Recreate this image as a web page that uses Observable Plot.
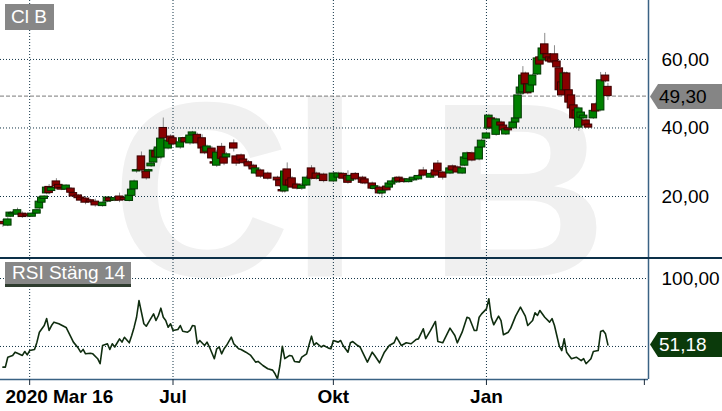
<!DOCTYPE html>
<html><head><meta charset="utf-8">
<script src="https://cdn.jsdelivr.net/npm/d3@7"></script>
<script src="https://cdn.jsdelivr.net/npm/@observablehq/plot@0.6"></script>
<style>
html,body{margin:0;padding:0;background:#fff;}
#wrap{position:relative;width:722px;height:411px;overflow:hidden;font-family:"Liberation Sans",Arial,sans-serif;}
#wrap svg{display:block;}
.lab{position:absolute;z-index:5;background:#878787;color:#fff;font-size:19px;white-space:nowrap;box-sizing:border-box;}
#sep{position:relative;z-index:4;height:2px;background:#0c3048;}
</style></head><body><div id="wrap"></div>
<script>
// ---- data ----
const ticker = "Cl B";
const indicatorName = "RSI Stäng 14";
const startLabel = "2020 Mar 16";
// trading-day index of time ticks
const tickDays = [12, 71, 137, 200, 265];
const tickLabels = ["", "Jul", "Okt", "Jan", ""];
const gridDays = [12, 71, 137, 200];
const priceTicks = [20, 40, 60];
const priceTickLabels = ["20,00", "40,00", "60,00"];
const rsiTicks = [50, 100];
const rsiLabelTicks = [100];
const rsiTickLabels = ["100,00"];
const lastClose = 49.30, lastCloseLabel = "49,30";
const lastRsi = 51.18, lastRsiLabel = "51,18";
// [day, open, high, low, close]
const ohlc = [
[1,12.6,13.3,11.0,11.9],[3,11.5,13.8,11.2,13.3],[4,14.1,15.6,13.8,15.3],[5,14.8,15.6,14.5,15.2],
[7,14.7,16.6,14.4,16.0],[9,15.0,15.5,13.6,14.0],[11,14.8,15.2,13.8,14.2],[13,14.1,15.3,13.9,15.0],
[15,15.0,16.2,14.8,16.0],[16,16.5,18.8,16.2,18.5],[17,18.2,19.9,18.0,19.7],[18,19.3,20.2,19.0,20.0],
[19,20.9,22.8,20.5,22.6],[20,22.8,23.5,20.5,21.0],[21,21.6,22.7,21.3,22.5],[23,24.4,25.2,22.5,22.9],
[24,23.4,23.8,22.0,22.3],[25,22.5,22.9,21.7,22.0],[27,22.0,23.4,21.8,23.2],[29,22.3,22.6,20.8,21.1],
[30,21.0,21.3,19.6,20.0],[32,20.3,20.6,19.0,19.5],[33,19.7,20.5,18.0,18.8],[35,19.4,20.0,17.6,18.2],
[37,18.9,19.2,17.9,18.3],[39,18.5,19.2,16.9,17.4],[42,17.2,18.4,16.9,18.2],[44,18.5,19.9,18.2,19.7],
[45,19.5,19.8,18.4,18.7],[47,18.8,19.8,18.5,19.5],[49,20.0,21.0,18.2,18.8],[51,19.6,19.9,18.6,19.0],
[53,18.7,20.5,18.4,20.3],[54,20.2,22.5,19.8,22.0],[55,22.1,24.8,21.8,24.4],[56,27.3,28.0,26.8,27.7],
[58,31.7,33.0,26.8,27.6],[60,27.3,27.8,24.8,25.3],[61,27.3,28.0,27.0,27.7],[62,28.8,30.0,28.5,29.6],
[63,29.9,34.0,29.5,33.4],[64,33.2,33.8,30.8,31.4],[65,31.4,34.8,31.0,34.3],[66,31.4,37.4,30.8,36.9],
[67,40.0,42.9,36.5,37.0],[69,34.0,36.8,33.6,36.3],[70,37.5,38.0,35.7,36.0],[71,37.0,37.4,34.8,35.2],
[74,34.3,36.2,33.8,35.8],[75,36.0,37.3,35.7,37.0],[76,37.0,37.4,35.4,35.8],[78,35.5,38.2,35.0,37.8],
[79,38.0,39.0,37.7,38.7],[81,38.0,38.5,35.0,35.5],[83,37.0,38.0,33.0,34.0],[84,34.3,34.8,32.2,32.6],
[85,33.1,35.0,32.8,34.6],[87,34.0,34.6,30.6,31.1],[88,30.0,30.4,29.2,29.6],[89,29.0,33.5,28.5,32.8],
[91,34.5,35.5,30.6,31.0],[92,31.4,31.8,29.0,29.6],[93,31.4,32.8,31.0,32.3],[96,35.5,36.5,33.0,34.0],
[97,31.7,32.2,28.8,29.6],[99,32.0,32.4,30.0,30.5],[100,30.8,31.2,29.2,29.7],[102,30.0,30.5,28.3,28.8],
[104,29.0,29.4,27.4,27.9],[105,26.7,28.6,26.3,28.2],[107,27.6,28.0,25.3,25.8],[110,26.7,27.1,24.8,25.2],
[114,25.5,25.9,24.3,24.7],[115,24.7,25.1,22.6,23.0],[116,21.9,22.2,21.0,21.5],[117,21.5,28.0,21.0,27.3],
[118,27.9,29.8,22.8,23.2],[119,24.7,25.2,22.8,23.2],[120,25.3,25.8,22.2,22.6],[122,23.5,23.9,21.9,22.3],
[124,22.3,23.8,21.8,23.2],[126,23.2,26.0,22.9,25.5],[128,28.2,29.0,24.8,25.2],[130,26.7,27.1,24.8,25.2],
[132,25.2,26.5,24.9,26.1],[133,26.4,26.8,24.0,24.5],[137,24.4,27.0,24.0,26.7],[139,25.5,27.1,25.2,26.7],
[141,26.6,27.0,24.8,25.2],[143,26.0,27.5,23.6,24.0],[144,24.6,26.4,24.3,26.0],[146,26.6,27.0,24.6,25.0],
[149,25.5,25.9,23.6,24.0],[150,25.0,25.4,23.4,23.8],[153,23.8,24.2,21.9,22.3],[154,22.2,23.4,21.8,23.0],
[156,22.6,23.0,20.5,20.9],[157,20.9,22.1,19.5,21.7],[159,22.9,23.3,21.4,21.8],[160,22.6,24.2,22.3,23.8],
[161,23.5,24.8,23.2,24.4],[163,24.1,25.7,23.8,25.3],[164,25.5,25.9,24.0,24.4],[166,25.0,25.4,23.8,24.2],
[168,24.2,25.4,23.9,25.0],[170,24.7,25.9,24.4,25.5],[172,25.0,26.4,24.7,26.0],[174,27.6,28.5,25.7,26.1],
[177,25.5,27.0,25.2,26.6],[179,27.6,28.0,25.7,26.1],[180,29.6,30.5,26.9,27.3],[182,27.0,27.4,24.8,25.5],
[185,26.7,28.6,26.4,28.2],[186,28.8,29.2,27.2,27.6],[188,28.5,28.9,26.6,27.0],[190,26.7,28.6,26.4,28.2],
[191,29.0,31.8,28.7,31.4],[192,31.0,33.0,30.7,32.6],[194,32.6,33.0,30.1,30.5],[197,30.8,34.7,30.4,34.3],
[198,34.3,36.7,34.0,36.3],[200,36.9,38.8,36.6,38.4],[201,39.8,44.0,39.4,43.6],[202,42.8,43.2,39.7,40.1],
[204,38.0,42.9,37.6,42.5],[206,41.6,42.0,40.3,40.7],[207,40.7,41.1,38.9,39.3],[208,38.1,40.0,37.8,39.6],
[209,39.9,40.3,38.9,39.3],[211,39.9,42.0,39.6,41.6],[212,41.6,43.2,41.3,42.8],[213,42.8,50.0,42.0,49.5],
[214,50.0,52.2,49.7,51.8],[215,50.4,57.9,49.5,55.3],[216,55.9,56.3,52.3,52.7],[217,52.7,53.1,49.7,50.1],
[218,50.4,53.1,50.1,52.7],[219,52.4,55.7,52.1,55.3],[221,55.6,60.7,55.3,60.3],[222,60.6,61.0,58.1,58.5],
[223,59.7,63.6,59.4,63.2],[224,64.4,67.6,61.1,61.5],[225,61.5,61.9,59.9,60.3],[226,60.6,61.0,59.0,59.4],
[227,60.3,60.7,58.7,59.1],[228,61.5,64.0,59.0,59.4],[229,59.4,59.8,57.3,57.7],[230,57.4,57.8,49.5,51.0],
[231,53.3,53.7,49.1,49.5],[232,51.0,56.3,50.6,55.9],[233,55.9,56.3,50.6,51.0],[234,51.0,51.4,47.0,47.4],
[235,49.5,49.9,45.3,45.7],[236,46.6,47.0,42.4,42.8],[237,45.1,45.5,42.4,42.8],[238,40.1,46.1,39.0,45.7],
[239,43.0,44.9,42.7,44.5],[240,42.8,44.0,42.5,43.6],[241,42.2,42.6,40.3,40.7],[242,41.0,41.4,39.7,40.1],
[244,42.8,45.4,42.5,45.0],[245,46.9,47.3,44.4,44.8],[247,45.1,56.2,44.7,53.9],[249,55.3,56.2,53.2,53.6],
[250,52.0,53.0,48.0,49.3]
];
const rsiDay = [1,2,3,5,6,7,9,10,11,12,14,15,16,18,19,20,21,22,24,26,27,29,30,32,33,34,35,37,38,40,41,42,44,45,46,47,49,50,51,53,54,55,56,57,59,60,61,63,64,65,66,67,68,69,70,71,73,74,75,77,78,79,80,81,82,84,85,86,88,89,90,91,92,93,95,96,98,99,101,103,105,106,108,110,112,113,114,115,116,117,119,120,121,123,124,126,127,128,129,130,132,133,135,136,137,139,140,141,143,144,145,147,148,149,151,153,154,156,158,160,162,163,165,167,169,171,172,174,175,177,179,180,182,185,187,188,190,192,193,195,196,197,198,200,201,202,203,205,206,207,209,210,212,214,216,217,219,220,221,222,224,226,227,228,230,231,232,233,235,237,239,240,241,243,244,246,247,248,249,250];
const rsiValue = [34.8,34.8,42.1,43.4,45.8,45,43.4,46.3,43.8,47,47.8,53.2,60.5,65.4,70.5,61.8,65.4,67.9,66.7,64.9,64,56.9,53.2,48.8,45.8,47.8,44.6,45,44.6,41,37.3,50.7,52,47.8,52,49.6,55.6,53.2,56.8,52.7,58.1,64.2,71.5,83.8,66.7,64.9,67.9,74,69.1,72.8,78.2,71.5,69.1,64.2,66.7,61.8,62.5,65.4,61.2,60.5,61.8,65.4,65,52,54.4,50.7,53.2,49.6,41,48.3,49.6,44.6,48.3,50.7,56.9,52,48.3,47.8,45.8,43.4,38.5,39,36,33.6,32.6,29.9,26.2,36,50.2,41,43.4,43,39,38.5,42.1,44.6,51.3,57.6,51,52.7,49.6,50.7,48.8,48.3,54.4,53.2,54.4,50.7,45.8,52.7,53.6,50.7,49.6,45.8,38.5,45.8,43.4,38,45.8,50.7,52.7,56.9,50.7,52.7,52,55.1,55.6,63,55.8,61.8,68.4,53.7,52.7,63.5,58.1,52.7,60.5,71.5,70.8,61.8,61.8,71.5,74,77.7,85.1,71.5,66,72.3,69.1,58.6,60.5,63.5,72.3,78.9,72.3,65.4,69.1,74.8,72.8,76.5,71.5,67.9,70.5,65.4,50.2,47,55.6,45.8,41,42.1,39.6,41,37.3,41,46.3,47,61,61.8,59.3,51.18];

// ---- styling / scales ----
const FONT = "Liberation Sans, Arial, sans-serif";
const xDomain = [0, 266.7];
const priceDomain = [2.2, 77.2];
const rsiDomain = [25.7, 114];
const gridColor = "#123447";
const axisColor = "#3a6284";
const bodyHalf = 1.55;
const upFill = "#008000", upStroke = "#003800";
const dnFill = "#880000", dnStroke = "#3a0000";

function tag(value, label, fill, color) {
  return (index, scales, values, dims) => {
    const y = Math.round(scales.y(value)) + 0.5;
    const x0 = dims.width - dims.marginRight;
    const g = d3.create("svg:g");
    g.append("path")
      .attr("d", `M${x0 + 2},${y} L${x0 + 10},${y - 12.5} L${dims.width},${y - 12.5} L${dims.width},${y + 12.5} L${x0 + 10},${y + 12.5} Z`)
      .attr("fill", fill);
    g.append("text").attr("x", x0 + 11).attr("y", y).attr("dy", "0.35em")
      .attr("text-anchor", "start")
      .attr("fill", color).attr("font-size", 19).attr("font-family", FONT).text(label);
    return g.node();
  };
}

const wrap = document.getElementById("wrap");

const main = Plot.plot({
  width: 722, height: 257,
  marginLeft: 0, marginRight: 74, marginTop: 0, marginBottom: 0,
  x: {domain: xDomain, axis: null},
  y: {domain: priceDomain, axis: null},
  style: {background: "none", overflow: "visible", fontFamily: FONT},
  marks: [
    Plot.text([ticker], {text: d => d, frameAnchor: "top-left", dx: 111, dy: 275, lineAnchor: "bottom", textAnchor: "start", fontSize: 248, fontWeight: "bold", fill: "#f0f0f0"}),
    Plot.ruleY(priceTicks, {stroke: gridColor, strokeDasharray: "1,2"}),
    Plot.ruleX(gridDays, {stroke: gridColor, strokeDasharray: "1,2"}),
    Plot.ruleY([lastClose], {stroke: "#7a7a7a", strokeDasharray: "4,2"}),
    Plot.ruleX(ohlc, {x: r => r[0], y1: r => r[3], y2: r => r[2], stroke: "#8a8a8a", strokeWidth: 1}),
    Plot.rect(ohlc, {
      x1: r => r[0] - bodyHalf, x2: r => r[0] + bodyHalf,
      y1: r => r[1], y2: r => r[4],
      fill: r => r[4] >= r[1] ? upFill : dnFill,
      stroke: r => r[4] >= r[1] ? upStroke : dnStroke, strokeWidth: 1
    }),
    Plot.ruleX([xDomain[1]], {stroke: axisColor, strokeWidth: 1.5}),
    Plot.text(priceTicks, {y: d => d, text: (d, i) => priceTickLabels[i], frameAnchor: "right", dx: 13, textAnchor: "start", fontSize: 19, fill: "#000"}),
    tag(lastClose, lastCloseLabel, "#858585", "#000")
  ]
});

const rsiRows = rsiDay.map((d, i) => ({day: d, rsi: rsiValue[i]}));

const rsi = Plot.plot({
  width: 722, height: 152,
  marginLeft: 0, marginRight: 74, marginTop: 0, marginBottom: 32,
  x: {domain: xDomain, axis: null, label: null},
  y: {domain: rsiDomain, axis: null, label: null},
  style: {background: "none", overflow: "visible", fontFamily: FONT},
  marks: [
    Plot.ruleY(rsiTicks, {stroke: gridColor, strokeDasharray: "1,2"}),
    Plot.ruleX(gridDays, {stroke: gridColor, strokeDasharray: "1,2"}),
    Plot.line(rsiRows, {x: "day", y: "rsi", stroke: "#0f2d0f", strokeWidth: 1.6}),
    Plot.ruleY([rsiDomain[0]], {stroke: axisColor, strokeWidth: 1.5}),
    Plot.ruleX([xDomain[1]], {stroke: axisColor, strokeWidth: 1.5}),
    Plot.axisX({ticks: tickDays, tickSize: 6, tickFormat: () => "", label: null, stroke: "#1a2a3a"}),
    Plot.text(tickDays, {x: d => d, text: (d, i) => tickLabels[i], frameAnchor: "bottom", dy: 23, lineAnchor: "bottom", fontSize: 19, fontWeight: "bold", fill: "#000"}),
    Plot.text([startLabel], {text: d => d, frameAnchor: "bottom-left", dx: 5, dy: 23, lineAnchor: "bottom", textAnchor: "start", fontSize: 19, fontWeight: "bold", fill: "#000"}),
    Plot.text(rsiLabelTicks, {y: d => d, text: (d, i) => rsiTickLabels[i], frameAnchor: "right", dx: 13, textAnchor: "start", fontSize: 19, fill: "#000"}),
    tag(lastRsi, lastRsiLabel, "#0b3a0b", "#fff")
  ]
});

wrap.appendChild(main);
const sep = document.createElement("div");
sep.id = "sep";
wrap.appendChild(sep);
wrap.appendChild(rsi);

const l1 = document.createElement("div");
l1.className = "lab";
l1.textContent = ticker;
Object.assign(l1.style, {left: "5px", top: "4px", width: "49px", height: "26px", lineHeight: "26px", paddingLeft: "6px"});
wrap.appendChild(l1);

const l2 = document.createElement("div");
l2.className = "lab";
l2.textContent = indicatorName;
Object.assign(l2.style, {left: "5px", top: "262px", width: "126px", height: "25px", lineHeight: "22px", paddingLeft: "7px", borderBottom: "3px solid #2e3c2e"});
wrap.appendChild(l2);
</script>
</body></html>
